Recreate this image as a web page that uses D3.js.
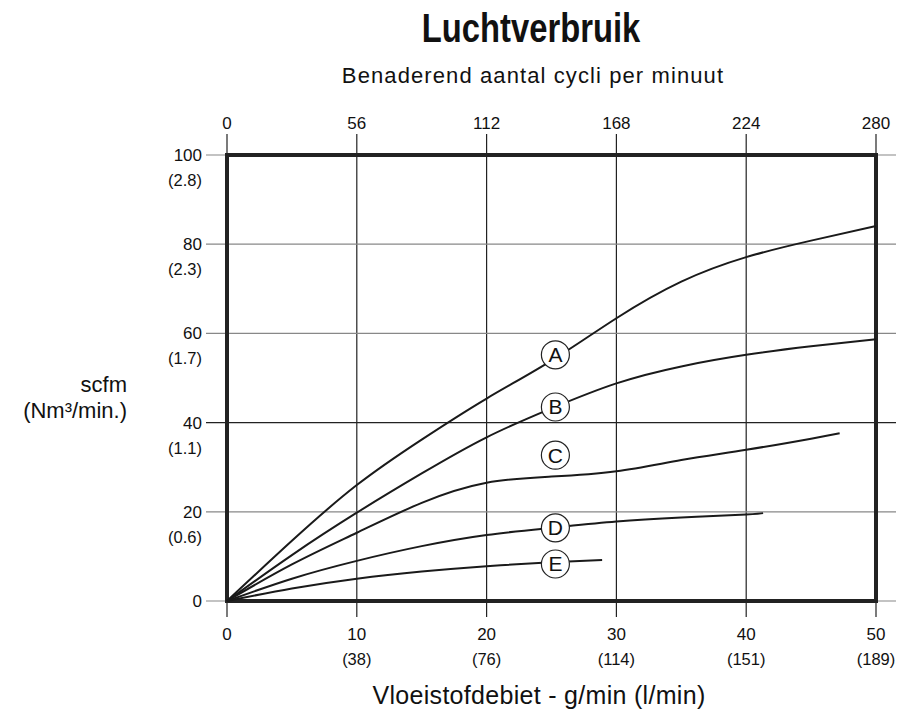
<!DOCTYPE html>
<html>
<head>
<meta charset="utf-8">
<script src="https://cdn.jsdelivr.net/npm/d3@7"></script>
<style>
  body { margin: 0; background: #fff; }
  text { fill: #111; }
</style>
</head>
<body>
<div id="chart"></div>
<script>
// flow in g/min (bottom axis), air in scfm (left axis)
const flowTicks = [0, 10, 20, 30, 40, 50];
const flowTicksLpm = ["", "(38)", "(76)", "(114)", "(151)", "(189)"];
const cycleTicks = [0, 56, 112, 168, 224, 280];
const airTicks = [0, 20, 40, 60, 80, 100];
const airTicksNm3 = ["", "(0.6)", "(1.1)", "(1.7)", "(2.3)", "(2.8)"];

const curveNames = ["A", "B", "C", "D", "E"];
const curveFlow = [
  [0, 5, 10, 15, 20, 25, 30, 35, 40, 45, 50],
  [0, 5, 10, 15, 20, 25, 30, 35, 40, 45, 50],
  [0, 5, 10, 15, 20, 25, 30, 35, 40, 45, 47.2],
  [0, 5, 10, 15, 20, 25, 30, 35, 40, 41.3],
  [0, 5, 10, 15, 20, 25, 28.9],
];
const curveAir = [
  [0, 13.5, 26, 36.2, 45.4, 53.9, 63.4, 71.6, 77.1, 80.8, 84.1],
  [0, 10.3, 19.8, 28.6, 36.7, 43.2, 48.8, 52.6, 55.2, 57.1, 58.7],
  [0, 8.2, 15.3, 22.0, 26.5, 27.9, 29.1, 31.6, 33.9, 36.4, 37.6],
  [0, 5.0, 9.0, 12.3, 14.8, 16.4, 17.8, 18.7, 19.4, 19.7],
  [0, 2.8, 5.0, 6.6, 7.8, 8.7, 9.2],
];
const labelFlow = [25.3, 25.3, 25.3, 25.3, 25.3];
const labelAir = [55.2, 43.5, 32.7, 16.4, 8.3];

const width = 909, height = 716;
const sans = "'Liberation Sans', Arial, sans-serif";

const svg = d3.select("#chart").append("svg")
  .attr("width", width)
  .attr("height", height);

const x = d3.scaleLinear().domain([0, 50]).range([227, 876]);
const xTop = d3.scaleLinear().domain([0, 280]).range([227, 876]);
const y = d3.scaleLinear().domain([0, 100]).range([601, 155]);

// grid lines, running past the frame as ticks
svg.append("g")
  .selectAll("line")
  .data(flowTicks)
  .enter()
  .append("line")
  .attr("x1", (d) => x(d))
  .attr("x2", (d) => x(d))
  .attr("y1", y(100) - 21)
  .attr("y2", y(0) + 16)
  .attr("stroke", "#222")
  .attr("stroke-width", 1.2);

svg.append("g")
  .selectAll("line")
  .data(airTicks)
  .enter()
  .append("line")
  .attr("x1", x(0) - 21)
  .attr("x2", x(50) + 20)
  .attr("y1", (d) => y(d))
  .attr("y2", (d) => y(d))
  .attr("stroke", (d) => (d === 40 ? "#222" : "#888"))
  .attr("stroke-width", 1.2);

// frame
svg.append("rect")
  .attr("x", x(0))
  .attr("y", y(100))
  .attr("width", x(50) - x(0))
  .attr("height", y(0) - y(100))
  .attr("fill", "none")
  .attr("stroke", "#222")
  .attr("stroke-width", 4);

// tick labels
svg.append("g")
  .selectAll("text")
  .data(cycleTicks)
  .enter()
  .append("text")
  .attr("x", (d) => xTop(d))
  .attr("y", 129)
  .attr("text-anchor", "middle")
  .attr("font-family", sans)
  .attr("font-size", 17)
  .text((d) => d);

const bottom = svg.append("g")
  .selectAll("g")
  .data(flowTicks)
  .enter()
  .append("g");
bottom.append("text")
  .attr("x", (d) => x(d))
  .attr("y", 640)
  .attr("text-anchor", "middle")
  .attr("font-family", sans)
  .attr("font-size", 17)
  .text((d) => d);
bottom.append("text")
  .attr("x", (d) => x(d))
  .attr("y", 665)
  .attr("text-anchor", "middle")
  .attr("font-family", sans)
  .attr("font-size", 16.5)
  .text((d, i) => flowTicksLpm[i]);

const left = svg.append("g")
  .selectAll("g")
  .data(airTicks)
  .enter()
  .append("g");
left.append("text")
  .attr("x", 202)
  .attr("y", (d) => y(d) + 6)
  .attr("text-anchor", "end")
  .attr("font-family", sans)
  .attr("font-size", 17)
  .text((d) => d);
left.append("text")
  .attr("x", 202)
  .attr("y", (d) => y(d) + 31)
  .attr("text-anchor", "end")
  .attr("font-family", sans)
  .attr("font-size", 16.5)
  .text((d, i) => airTicksNm3[i]);

// titles (the original uses a condensed face, so squeeze the bold title)
svg.append("text")
  .attr("transform", "translate(531,42) scale(0.82,1)")
  .attr("text-anchor", "middle")
  .attr("font-family", sans)
  .attr("font-weight", "bold")
  .attr("font-size", 40)
  .text("Luchtverbruik");

svg.append("text")
  .attr("x", 533)
  .attr("y", 83)
  .attr("text-anchor", "middle")
  .attr("font-family", sans)
  .attr("font-size", 22)
  .attr("letter-spacing", 1.1)
  .text("Benaderend aantal cycli per minuut");

svg.append("text")
  .attr("x", 539)
  .attr("y", 704)
  .attr("text-anchor", "middle")
  .attr("font-family", sans)
  .attr("font-size", 25)
  .attr("letter-spacing", 0.3)
  .text("Vloeistofdebiet - g/min (l/min)");

svg.append("text")
  .attr("x", 127)
  .attr("y", 392)
  .attr("text-anchor", "end")
  .attr("font-family", sans)
  .attr("font-size", 22)
  .text("scfm");
svg.append("text")
  .attr("x", 127)
  .attr("y", 418)
  .attr("text-anchor", "end")
  .attr("font-family", sans)
  .attr("font-size", 22)
  .text("(Nm³/min.)");

// curves
const line = d3.line()
  .x((d) => x(d[0]))
  .y((d) => y(d[1]))
  .curve(d3.curveNatural);

svg.append("g")
  .selectAll("path")
  .data(curveNames)
  .enter()
  .append("path")
  .attr("d", (d, i) => line(d3.zip(curveFlow[i], curveAir[i])))
  .attr("fill", "none")
  .attr("stroke", "#1a1a1a")
  .attr("stroke-width", 2);

const labels = svg.append("g")
  .selectAll("g")
  .data(curveNames)
  .enter()
  .append("g")
  .attr("transform", (d, i) => `translate(${x(labelFlow[i])},${y(labelAir[i])})`);
labels.append("circle")
  .attr("r", 14)
  .attr("fill", "#fff")
  .attr("stroke", "#222")
  .attr("stroke-width", 1.2);
labels.append("text")
  .attr("y", 7.5)
  .attr("text-anchor", "middle")
  .attr("font-family", sans)
  .attr("font-size", 21)
  .text((d) => d);
</script>
</body>
</html>
